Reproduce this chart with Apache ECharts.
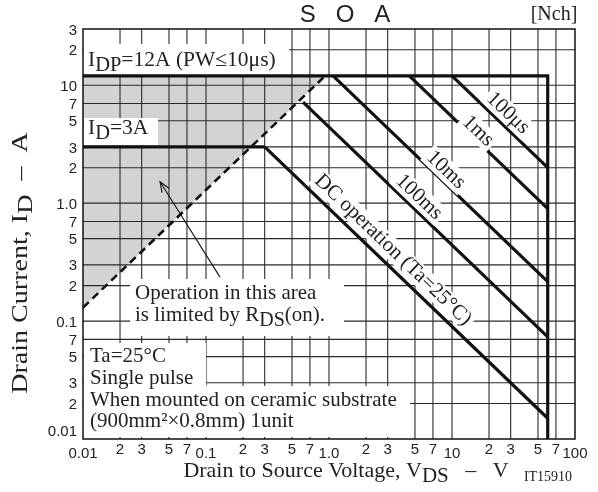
<!DOCTYPE html>
<html><head><meta charset="utf-8">
<script src="https://cdn.jsdelivr.net/npm/echarts@6/dist/echarts.min.js"></script>
<style>html,body{margin:0;padding:0;background:#fff}#c{width:598px;height:492px}</style>
</head><body><div id="c"></div>
<script>
// ---- data ----
const xGrid = [0.02,0.03,0.05,0.07,0.1,0.2,0.3,0.5,0.7,1,2,3,5,7,10,20,30,50,70];
const yGrid = [0.02,0.03,0.05,0.07,0.1,0.2,0.3,0.5,0.7,1,2,3,5,7,10,20];
const xTickValues = [0.01,0.02,0.03,0.05,0.07,0.1,0.2,0.3,0.5,0.7,1,2,3,5,7,10,20,30,50,70,100];
const xTickLabels = ['0.01','2','3','5','7','0.1','2','3','5','7','1.0','2','3','5','7','10','2','3','5','7','100'];
const yTickValues = [0.01,0.02,0.03,0.05,0.07,0.1,0.2,0.3,0.5,0.7,1,2,3,5,7,10,20,30];
const yTickLabels = ['0.01','2','3','5','7','0.1','2','3','5','7','1.0','2','3','5','7','10','2','3'];
const idpLimit = [[0.01,12],[60,12],[60,0.01]];
const idLimit = [[0.01,3],[0.3,3]];
const dcLine = [[0.3,3],[60,0.015]];
const ms100Line = [[0.615,7.2],[60,0.0735]];
const ms10Line = [[1.08,12],[60,0.216]];
const ms1Line = [[4.5,12],[60,0.9]];
const us100Line = [[10,12],[60,2]];
const rdsLine = [[0.01,0.13],[0.93,12]];
const rdsArea = [[0.01,0.13],[0.01,12],[0.93,12]];
const arrowPts = [[0.13,0.236],[0.0423,1.52]];

const SERIF = '"Liberation Serif","Times New Roman",serif';
const SANS = '"Liberation Sans",Arial,sans-serif';
const chart = echarts.init(document.getElementById('c'), null, {renderer:'canvas'});

function thick(data, z){
  return {type:'line', data, symbol:'none', silent:true, z: z||20, animation:false,
    lineStyle:{color:'#111', width:3.2, cap:'butt', join:'miter'}};
}
const isDecade = v => Math.abs(Math.log10(v) - Math.round(Math.log10(v))) < 1e-9;
function richSub(fs, sub){
  return {m:{fontSize:fs, fontFamily:SERIF, fill:'#222', lineHeight:fs+4, verticalAlign:'top'},
          s:{fontSize:fs-1, fontFamily:SERIF, fill:'#222', lineHeight:fs+4, verticalAlign:'top', padding:[sub,0,0,0]}};
}
function plain(x,y,text,fs){
  return {type:'text', z:40, x, y, style:{text, font:fs+'px '+SERIF, fill:'#222', align:'left', verticalAlign:'middle'}};
}
function diag(x,y,text){
  return {type:'text', z:40, x, y, rotation:-0.763, style:{text, font:'21px '+SERIF, fill:'#222', align:'center', verticalAlign:'middle', backgroundColor:'#fff', padding:[0,3]}};
}

const option = {
  animation:false,
  backgroundColor:'#fff',
  grid:{left:83, right:23, top:29, bottom:53, show:true, borderColor:'#111', borderWidth:1.5, backgroundColor:'transparent', z:25},
  xAxis:{type:'log', logBase:10, min:0.01, max:100, axisLine:{show:false}, axisTick:{show:false}, axisLabel:{show:false}, splitLine:{show:false}},
  yAxis:{type:'log', logBase:10, min:0.01, max:30, axisLine:{show:false}, axisTick:{show:false}, axisLabel:{show:false}, splitLine:{show:false}},
  series:[
    {type:'custom', z:1, silent:true, clip:false, data:rdsArea,
     renderItem:(p,api)=> p.dataIndex===0 ? {type:'polygon', shape:{points: rdsArea.map(d=>api.coord(d))}, style:{fill:'#d2d3d5'}} : {type:'group',children:[]}},
    {type:'custom', z:2, silent:true, clip:false, data:xGrid.map(v=>[v,1]),
     renderItem:(p,api)=>{const a=api.coord([api.value(0),0.01]), b=api.coord([api.value(0),30]);
       return {type:'line', shape:{x1:a[0],y1:a[1],x2:b[0],y2:b[1]}, style:{stroke:'#2a2a2a', lineWidth:1.1}};}},
    {type:'custom', z:2, silent:true, clip:false, data:yGrid.map(v=>[1,v]),
     renderItem:(p,api)=>{const a=api.coord([0.01,api.value(1)]), b=api.coord([100,api.value(1)]);
       return {type:'line', shape:{x1:a[0],y1:a[1],x2:b[0],y2:b[1]}, style:{stroke:'#2a2a2a', lineWidth:1.1}};}},
    {type:'custom', z:30, silent:true, clip:false, data:xTickValues.map((v,i)=>[v,1,i]),
     renderItem:(p,api)=>{const v=api.value(0), i=api.value(2); const pt=api.coord([v,0.01]);
       return {type:'text', x:pt[0], y:pt[1]+(isDecade(v)?15:11), style:{text:xTickLabels[i], font:'15px '+SANS, fill:'#222', align:'center', verticalAlign:'middle'}};}},
    {type:'custom', z:30, silent:true, clip:false, data:yTickValues.map((v,i)=>[1,v,i]),
     renderItem:(p,api)=>{const v=api.value(1), i=api.value(2); const pt=api.coord([0.01,v]);
       return {type:'text', x:pt[0]-6, y:pt[1]+(i===0?-7:1.5), style:{text:yTickLabels[i], font:'15px '+SANS, fill:'#222', align:'right', verticalAlign:'middle'}};}},
    {type:'custom', z:30, silent:true, clip:false, data:arrowPts,
     renderItem:(p,api)=>{ if(p.dataIndex!==0) return {type:'group',children:[]};
       const a=api.coord(arrowPts[0]), b=api.coord(arrowPts[1]);
       const ang=Math.atan2(b[1]-a[1], b[0]-a[0]); const L=11, w=0.38;
       const h1=[b[0]-L*Math.cos(ang-w), b[1]-L*Math.sin(ang-w)], h2=[b[0]-L*Math.cos(ang+w), b[1]-L*Math.sin(ang+w)];
       return {type:'group', children:[
         {type:'line', shape:{x1:a[0],y1:a[1],x2:b[0],y2:b[1]}, style:{stroke:'#111', lineWidth:1.1}},
         {type:'polyline', shape:{points:[h1,b,h2]}, style:{stroke:'#111', lineWidth:1.1, fill:null}}]};}},
    thick(idpLimit), thick(idLimit), thick(dcLine), thick(ms100Line), thick(ms10Line), thick(ms1Line), thick(us100Line),
    {type:'line', data:rdsLine, symbol:'none', silent:true, z:20, animation:false,
     lineStyle:{color:'#111', width:2.6, type:[8,5]}}
  ],
  graphic:[
    {type:'rect', z:10, shape:{x:84,y:44,width:205,height:32}, style:{fill:'#fff'}},
    {type:'rect', z:10, shape:{x:84,y:118,width:74,height:27}, style:{fill:'#fff'}},
    {type:'rect', z:10, shape:{x:130,y:279,width:214,height:57}, style:{fill:'#fff'}},
    {type:'rect', z:10, shape:{x:84,y:343,width:122,height:44}, style:{fill:'#fff'}},
    {type:'rect', z:10, shape:{x:84,y:386,width:326,height:51}, style:{fill:'#fff'}},
    {type:'text', z:40, x:345, y:15, style:{text:'S   O   A', font:'24px '+SANS, fill:'#222', align:'center', verticalAlign:'middle'}},
    {type:'text', z:40, x:554, y:15, style:{text:'[Nch]', font:'20px '+SERIF, fill:'#222', align:'center', verticalAlign:'middle'}},
    {type:'text', z:40, x:548, y:477, style:{text:'IT15910', font:'14px '+SERIF, fill:'#222', align:'center', verticalAlign:'middle'}},
    {type:'text', z:40, x:346, y:460, style:{text:'{m|Drain to Source Voltage, V}{s|DS}{m|   –   V}', align:'center', verticalAlign:'top', rich:richSub(22,6)}},
    {type:'text', z:40, x:9, y:263, rotation:Math.PI/2, scaleX:1.22, style:{text:'{m|Drain Current, I}{s|D}{m|  –  A}', align:'center', verticalAlign:'top', rich:richSub(23,6)}},
    {type:'text', z:40, x:88, y:49, style:{text:'{m|I}{s|DP}{m|=12A (PW≤10μs)}', align:'left', verticalAlign:'top', rich:richSub(21.5,6)}},
    {type:'text', z:40, x:88, y:117, style:{text:'{m|I}{s|D}{m|=3A}', align:'left', verticalAlign:'top', rich:richSub(21.5,6)}},
    plain(135,293,'Operation in this area',21),
    {type:'text', z:40, x:135, y:305, style:{text:'{m|is limited by R}{s|DS}{m|(on).}', align:'left', verticalAlign:'top', rich:richSub(21,6)}},
    plain(90,356,'Ta=25°C',21),
    plain(90,378,'Single pulse',21),
    plain(90,400,'When mounted on ceramic substrate',21),
    plain(90,421,'(900mm²×0.8mm) 1unit',21),
    diag(508,113,'100μs'),
    diag(478,131,'1ms'),
    diag(446,170,'10ms'),
    diag(419,197,'100ms'),
    diag(393,250,'DC operation (Ta=25°C)')
  ]
};
chart.setOption(option);
</script></body></html>
